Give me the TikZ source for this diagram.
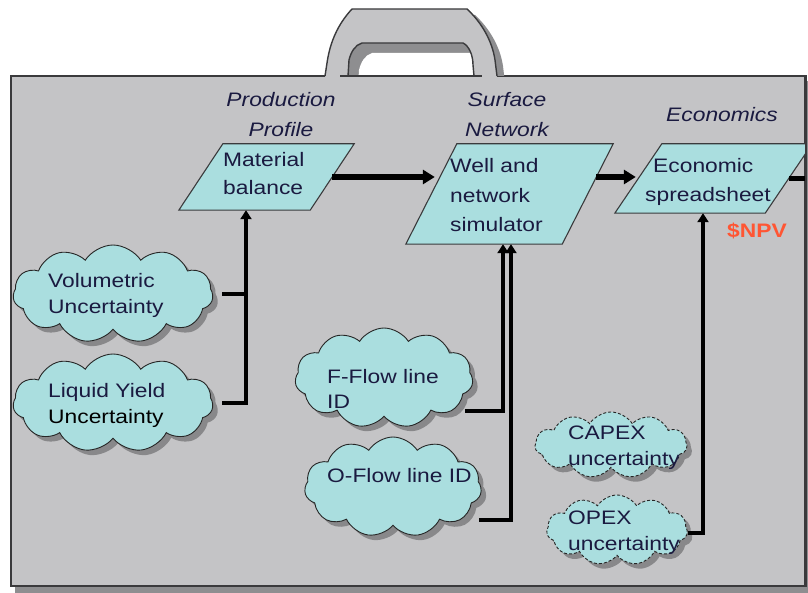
\documentclass[tikz,border=0pt]{standalone}
\usepackage{fontspec}
\setmainfont{Liberation Sans}[FakeStretch=1.17]
\usetikzlibrary{shapes.symbols,shadows,arrows.meta,calc}
\definecolor{casegray}{HTML}{C4C4C6}
\definecolor{caseedge}{HTML}{3A3A3C}
\definecolor{caseshade}{HTML}{8E8E90}
\definecolor{cyanfill}{HTML}{AADEDF}
\definecolor{inktext}{HTML}{1A1A40}
\definecolor{npvred}{HTML}{FF5533}
\newcommand\dgfont[1]{\fontsize{19.5pt}{#1}\selectfont}
\begin{document}
\begin{tikzpicture}[x=1pt,y=-1pt,
  casebody/.style={rectangle,fill=casegray,draw=caseedge,line width=1.5pt,inner sep=0pt},
  frame/.style={draw=none,rectangle,inner sep=0pt},
  parashape/.style={fill=cyanfill,draw=caseedge,line width=1.1pt,line join=miter},
  cloudbox/.style={cloud,cloud puffs=11,cloud puff arc=115,cloud ignores aspect,
    fill=cyanfill,draw=black!85,line width=0.9pt,inner sep=0pt,
    drop shadow={shadow xshift=5pt,shadow yshift=-5pt,fill=black,opacity=0.3}},
  smallcloud/.style={cloudbox,densely dashed},
  txt/.style={text=inktext,inner sep=0pt,align=left,anchor=base west},
  head/.style={text=inktext,inner sep=0pt,align=center,anchor=base},
  flow/.style={line width=5.5pt,-{Triangle[length=12pt,width=14pt]}},
  flowline/.style={line width=5.5pt},
  feed/.style={line width=4pt,-{Triangle[length=9pt,width=11pt]}},
  link/.style={line width=4pt}]
\useasboundingbox (0,0) rectangle (808,593);

% briefcase body with its shadow
\fill[caseshade] (15,81) rectangle (810,593);
\node[casebody,minimum width=794pt,minimum height=510pt] (case) at (408,331) {};

% handle: shadow, body, opening
\begin{scope}
  \clip (0,0) rectangle (808,75.3);
  \fill[caseshade,shift={(8,6)}] (325,77) -- (327,63) .. controls (330,42) and (338,24) .. (352,9)
    -- (467,9) .. controls (481,22) and (492,40) .. (495,60) -- (497,77) -- cycle;
\end{scope}
\fill[casegray] (325,77.5) -- (327,63) .. controls (330,42) and (338,24) .. (352,9)
  -- (467,9) .. controls (481,22) and (492,40) .. (495,60) -- (497,77.5) -- cycle;
\draw[caseedge,line width=1.4pt] (325,76) -- (327,63) .. controls (330,42) and (338,24) .. (352,9)
  -- (467,9) .. controls (481,22) and (492,40) .. (495,60) -- (497,76);
\begin{scope}
  \clip (348,76) -- (349,60) .. controls (351,52) and (355,45) .. (362,43)
    -- (463,43) .. controls (469,46) and (473,55) .. (473,65) -- (474,76) -- cycle;
  \fill[caseshade] (340,30) rectangle (480,80);
  \fill[white,shift={(10,10)}] (348,76) -- (349,60) .. controls (351,52) and (355,45) .. (362,43)
    -- (463,43) .. controls (469,46) and (473,55) .. (473,65) -- (474,76) -- cycle;
\end{scope}
\draw[caseedge,line width=1.4pt] (348,76) -- (349,60) .. controls (351,52) and (355,45) .. (362,43)
  -- (463,43) .. controls (469,46) and (473,55) .. (473,65) -- (474,76);
\draw[caseedge,line width=1.5pt] (340,76) -- (482,76);

% column headings (anchored on the baseline of the last line)
\node[head,font=\dgfont{30pt}\itshape] (hprod) at (281,137) {Production\\Profile};
\node[head,font=\dgfont{30pt}\itshape] (hsurf) at (507,137) {Surface\\Network};
\node[head,font=\dgfont{30pt}\itshape] (hecon) at (722,122) {Economics};

% process boxes (parallelograms)
\node[frame,minimum width=175pt,minimum height=66pt] (mb) at (266.5,177) {};
\node[frame,minimum width=207pt,minimum height=100pt] (well) at (509.5,194) {};
\node[frame,minimum width=197pt,minimum height=69pt] (econ) at (713.5,178.5) {};
\path[parashape] ([xshift=44pt]mb.north west) -- (mb.north east)
  -- ([xshift=-44pt]mb.south east) -- (mb.south west) -- cycle;
\path[parashape] ([xshift=51pt]well.north west) -- (well.north east)
  -- ([xshift=-51pt]well.south east) -- (well.south west) -- cycle;
\begin{scope}
  \clip (case.north west) rectangle (case.south east);
  \path[parashape] ([xshift=47pt]econ.north west) -- (econ.north east)
    -- ([xshift=-47pt]econ.south east) -- (econ.south west) -- cycle;
  \draw[flowline] ([xshift=-23pt]econ.east) -- (case.east |- econ.east);
\end{scope}
\draw[caseedge,line width=1.5pt] (case.north east) -- (case.south east);

\node[txt,font=\dgfont{28pt}] (mbt) at (223,195) {Material\\balance};
\node[txt,font=\dgfont{29.5pt}] (wellt) at (450,232) {Well and\\network\\simulator};
\node[txt,font=\dgfont{29pt}] (econt) at (645,202) {\hspace*{8pt}Economic\\spreadsheet};
\node[txt,font=\dgfont{26pt}\bfseries,text=npvred] (npv) at (727,238) {\$NPV};

% uncertainty clouds
\node[cloudbox,minimum width=200pt,minimum height=98pt] (vol) at (113,294) {};
\node[cloudbox,minimum width=200pt,minimum height=98pt] (liq) at (113,403) {};
\node[cloudbox,minimum width=178pt,minimum height=100pt] (ff) at (384,378) {};
\node[cloudbox,minimum width=177pt,minimum height=100pt] (of) at (393,487) {};
\node[smallcloud,minimum width=152pt,minimum height=66pt] (capex) at (611,445) {};
\node[smallcloud,minimum width=141pt,minimum height=70pt] (opex) at (617,530) {};

\node[txt,font=\dgfont{26pt}] (volt) at (48,314) {Volumetric\\Uncertainty};
\node[txt,font=\dgfont{26pt}] (liqt) at (48,423) {Liquid Yield\\\textcolor{black}{Uncertainty}};
\node[txt,font=\dgfont{25pt}] (fft) at (327,408) {F-Flow line\\ID};
\node[txt,font=\dgfont{26pt}] (oft) at (327,482) {O-Flow line ID};
\node[txt,font=\dgfont{26pt}] (capext) at (568,465) {CAPEX\\uncertainty};
\node[txt,font=\dgfont{26pt}] (opext) at (568,550) {OPEX\\uncertainty};

% entry points on the lower edges of the boxes
\coordinate (mbin) at ([xshift=-20.5pt]mb.south);
\coordinate (wellinA) at ([xshift=-6.5pt]well.south);
\coordinate (wellinB) at ([xshift=1.5pt]well.south);
\coordinate (econin) at ([xshift=-10.5pt]econ.south);

% main flow
\draw[flow] ([xshift=-22pt]mb.east) -- ([xshift=29pt]mb.east -| well.west);
\draw[flow] ([xshift=-17pt]well.east |- mb.east) -- ([xshift=21pt]mb.east -| econ.west);

% uncertainty feeds
\draw[link] ([xshift=9pt]vol.east) -- (vol.east -| mbin);
\draw[feed] ([xshift=9pt]liq.east) -| (mbin);
\draw[feed] ([shift={(-8,33)}]ff.east) -| (wellinA);
\draw[feed] ([shift={(-2,33)}]of.east) -| (wellinB);
\draw[feed] ([shift={(0,3)}]opex.east) -| (econin);
\end{tikzpicture}
\end{document}
